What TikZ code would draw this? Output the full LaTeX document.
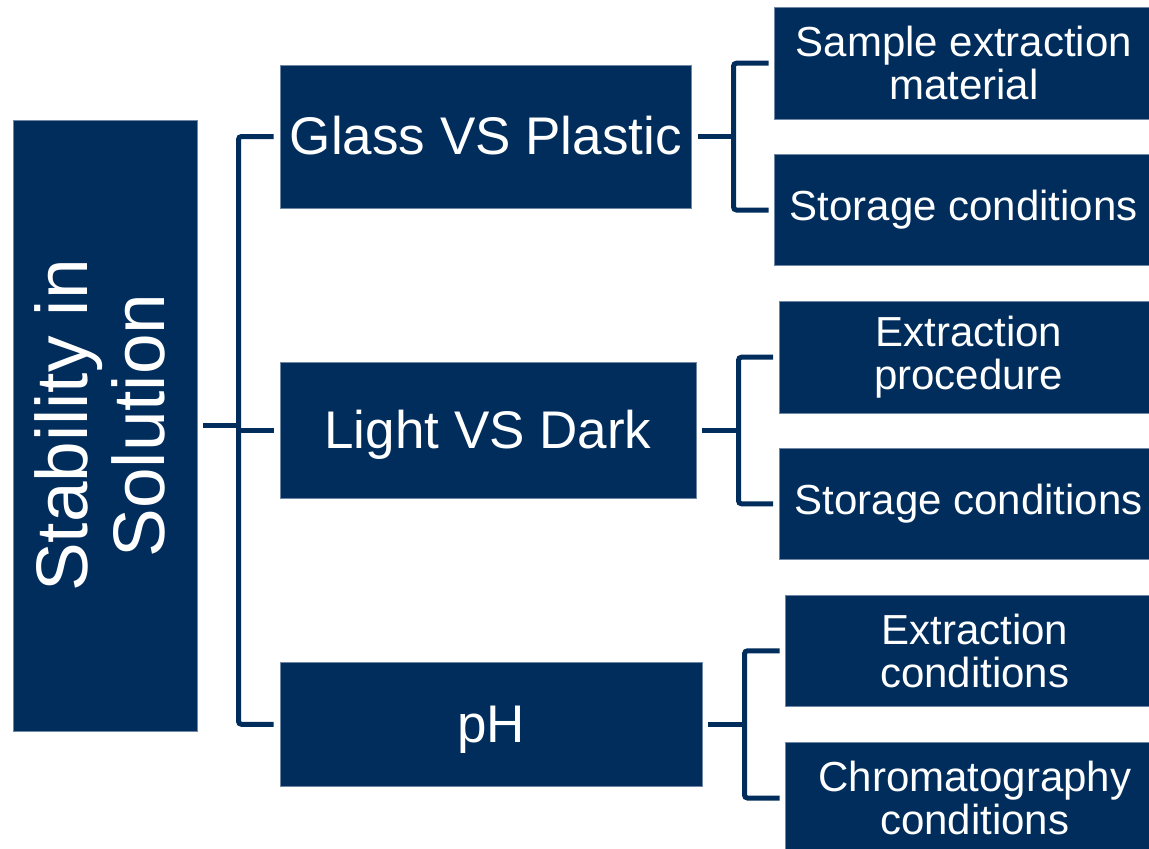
\documentclass[tikz,border=0pt]{standalone}
\usepackage{fontspec}
\setmainfont{Liberation Sans}
\definecolor{navy}{RGB}{0,45,92}
\definecolor{edge}{RGB}{110,135,165}
\tikzset{
  box/.style={rectangle, fill=navy, draw=edge, line width=0.6pt, text=white, inner sep=0pt, align=center, anchor=center},
  rootbox/.style={box, minimum width=184pt, minimum height=611pt},
  roottext/.style={rotate=90, text=white, inner sep=0pt, align=center, anchor=center, font=\fontsize{73}{77}\selectfont},
  midbox/.style={box, text height=48pt, text depth=11.2pt, font=\fontsize{53}{56}\selectfont},
  leafbox/.style={box, minimum width=379pt, minimum height=111.5pt, font=\fontsize{42}{43.5}\selectfont},
  conn/.style={draw=navy, line width=5pt, rounded corners=3pt}
}
\begin{document}
\begin{tikzpicture}[x=1pt,y=-1pt]
\useasboundingbox (0,0) rectangle (1149,849);
\clip (0,0) rectangle (1149,849);
% root
\node[rootbox] (root) at (105,425.5) {};
\node[roottext] (roottxt) at (100,425.5) {Stability in\\Solution};
% middle level
\node[midbox, minimum width=411.7pt, minimum height=143pt] (m1) at (485.8,136.5) {Glass VS Plastic};
\node[midbox, minimum width=416pt, minimum height=135.3pt] (m2) at (488,430.3) {Light VS Dark};
\node[midbox, minimum width=422.7pt, minimum height=124.7pt] (m3) at (491.3,724.3) {pH};
% leaves
\node[leafbox] (r1) at (963.8,63.2) {Sample extraction\\material};
\node[leafbox] (r2) at (963.8,210) {Storage conditions};
\node[leafbox] (r3) at (968.8,357.2) {Extraction\\procedure};
\node[leafbox] (r4) at (968.8,503.8) {Storage conditions};
\node[leafbox] (r5) at (974.8,650.8) {Extraction\\conditions};
\node[leafbox] (r6) at (974.8,798) {Chromatography\\conditions};
% junction columns
\coordinate (j0) at (238.5,0);
\coordinate (j1) at (733.5,0);
\coordinate (j2) at (738.5,0);
\coordinate (j3) at (744.5,0);
% root connectors
\draw[conn] ([xshift=6pt]root.east) -- (root.east -| j0);
\draw[conn] ([xshift=-6pt]m1.west) -- (m1.west -| j0) -- (m3.west -| j0) -- ([xshift=-6pt]m3.west);
\draw[conn] ([xshift=-6pt]m2.west) -- (m2.west -| j0);
% glass connectors
\draw[conn] ([xshift=6pt]m1.east) -- (m1.east -| j1);
\draw[conn] ([xshift=-5.5pt]r1.west) -- (r1.west -| j1) -- (r2.west -| j1) -- ([xshift=-5.5pt]r2.west);
% light connectors
\draw[conn] ([xshift=6pt]m2.east) -- (m2.east -| j2);
\draw[conn] ([xshift=-6pt]r3.west) -- (r3.west -| j2) -- (r4.west -| j2) -- ([xshift=-6pt]r4.west);
% pH connectors
\draw[conn] ([xshift=5.5pt]m3.east) -- (m3.east -| j3);
\draw[conn] ([xshift=-5.5pt]r5.west) -- (r5.west -| j3) -- (r6.west -| j3) -- ([xshift=-5.5pt]r6.west);
\end{tikzpicture}
\end{document}
